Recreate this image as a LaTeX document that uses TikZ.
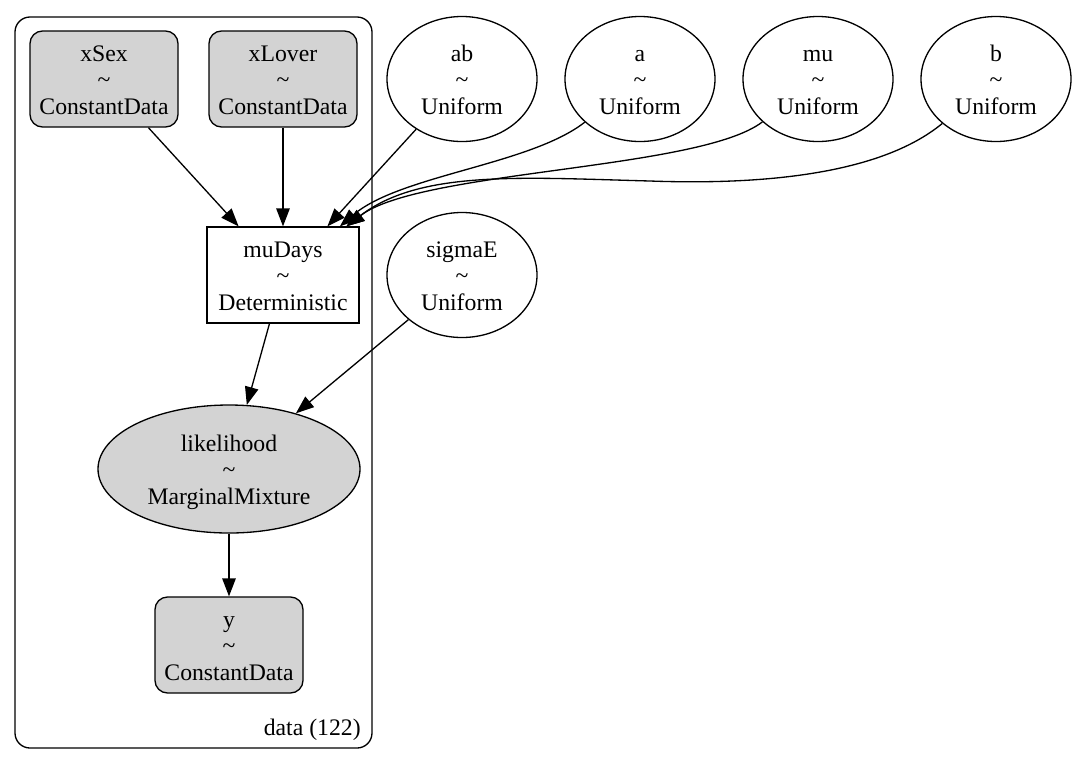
\documentclass[tikz,border=0pt]{standalone}
\usepackage{fontspec}
\setmainfont{Liberation Serif}
\usepackage{xcolor}
\usepackage{tikz}
\usetikzlibrary{shapes.geometric, positioning, arrows.meta, calc}
\definecolor{obsfill}{RGB}{211,211,211}
\newcommand{\rvtext}[2]{\rule{0pt}{14.5pt}#1\\\textasciitilde\\#2\strut}

\begin{document}
\begin{tikzpicture}[
        font=\fontsize{13.5}{15.2}\selectfont,
        every node/.style={align=center, inner sep=0pt},
        databox/.style={draw, rectangle, rounded corners=0.25cm, fill=obsfill, minimum width=2.96cm, minimum height=1.92cm, line width=0.75pt},
        detbox/.style={draw, rectangle, minimum width=3.04cm, minimum height=1.92cm, line width=0.75pt},
        rv/.style={draw, ellipse, minimum width=3.0cm, minimum height=2.5cm, line width=0.75pt},
        lik/.style={draw, ellipse, fill=obsfill, minimum width=5.24cm, minimum height=2.56cm, line width=0.75pt},
        plate/.style={draw, rounded corners=0.3cm, line width=0.75pt},
        arr/.style={-{Triangle[length=0.36cm, width=0.27cm]}, line width=0.75pt}
    ]
    \useasboundingbox (0,0) rectangle (21.62,-15.14);

    % plate
    \draw[plate] (0.30,-0.34) rectangle (7.44,-14.96);
    \node[anchor=south east] (platelabel) at (7.22,-14.82) {data (122)};

    \node[databox] (xSex) at (2.08,-1.58) {\rvtext{xSex}{ConstantData}};
    \node[databox] (xLover) at (5.66,-1.58) {\rvtext{xLover}{ConstantData}};
    \node[rv] (ab) at (9.24,-1.58) {\rvtext{ab}{Uniform}};
    \node[rv] (a) at (12.80,-1.58) {\rvtext{a}{Uniform}};
    \node[rv] (mu) at (16.36,-1.58) {\rvtext{mu}{Uniform}};
    \node[rv] (b) at (19.92,-1.58) {\rvtext{b}{Uniform}};
    \node[detbox] (muDays) at (5.66,-5.50) {\rvtext{muDays}{Deterministic}};
    \node[rv] (sigmaE) at (9.24,-5.50) {\rvtext{sigmaE}{Uniform}};
    \node[lik] (likelihood) at (4.58,-9.38) {\rvtext{likelihood}{MarginalMixture}};
    \node[databox] (y) at (4.58,-12.90) {\rvtext{y}{ConstantData}};

    \draw[arr] (xSex) -- (muDays);
    \draw[arr] (xLover) -- (muDays);
    \draw[arr] (ab) -- (muDays);
    \draw[arr] (a) .. controls (10.6,-3.3) and (8.0,-3.5) .. (muDays);
    \draw[arr] (mu) .. controls (14.0,-3.4) and (8.4,-3.4) .. (muDays);
    \draw[arr] (b) .. controls (17.6,-3.5) and (15.2,-3.7) .. (13.0,-3.62)
        .. controls (10.4,-3.55) and (8.4,-3.4) .. (muDays);
    \draw[arr] (muDays) -- (likelihood);
    \draw[arr] (sigmaE) -- (likelihood);
    \draw[arr] (likelihood) -- (y);

    \end{tikzpicture}
\end{document}
